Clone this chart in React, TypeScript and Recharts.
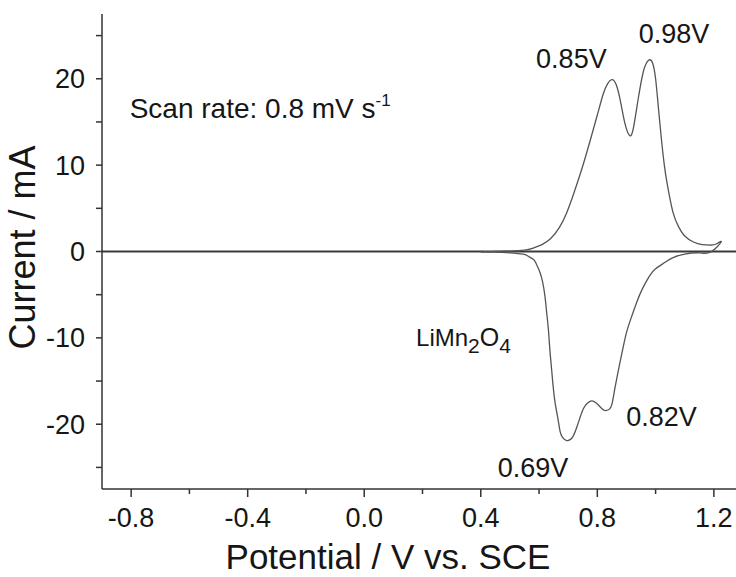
import React from 'react';
import { LineChart, Line, XAxis, YAxis, ReferenceLine, ReferenceDot } from 'recharts';

// Cyclic voltammogram loop: anodic sweep 0.40 -> 1.225 V, then cathodic back to 0.40 V
const potentialV = [
  0.40, 0.45, 0.50, 0.55, 0.58, 0.61, 0.64, 0.67, 0.695, 0.72, 0.75, 0.775, 0.80, 0.82, 0.835, 0.85,
  0.865, 0.88, 0.895, 0.912, 0.925, 0.94, 0.957, 0.97, 0.98, 0.99, 1.0, 1.01, 1.02, 1.03, 1.04, 1.06,
  1.08, 1.10, 1.13, 1.16, 1.19, 1.21, 1.225,
  1.19, 1.15, 1.10, 1.06, 1.03, 1.0, 0.98, 0.955, 0.935, 0.915, 0.90, 0.888, 0.878, 0.868, 0.86, 0.85,
  0.84, 0.825, 0.81, 0.795, 0.78, 0.765, 0.752, 0.74, 0.73, 0.715, 0.695, 0.68, 0.672, 0.664, 0.655,
  0.648, 0.643, 0.637, 0.632, 0.626, 0.62, 0.612, 0.603, 0.59, 0.58, 0.56, 0.546, 0.50, 0.466, 0.43, 0.40,
];
const currentMA = [
  -0.1, 0.0, 0.05, 0.15, 0.4, 0.8, 1.5, 2.8, 4.5, 6.8, 9.9, 12.8, 15.8, 18.2, 19.4, 19.9,
  19.3, 17.3, 14.8, 13.4, 14.5, 17.6, 20.7, 21.9, 22.2, 21.8, 20.0, 16.5, 13.0, 10.0, 7.8, 4.5,
  2.8, 1.8, 1.1, 0.8, 0.75, 0.9, 1.1,
  -0.05, -0.15, -0.3, -0.7, -1.3, -2.0, -2.8, -4.3, -5.9, -7.8, -9.4, -11.2, -12.8, -14.5, -15.9, -17.7,
  -18.3, -18.4, -18.0, -17.5, -17.3, -17.6, -18.2, -19.3, -20.3, -21.5, -21.9, -21.5, -20.8, -19.2, -17.5,
  -15.5, -13.6, -11.3, -9.0, -7.0, -5.1, -3.5, -2.4, -1.4, -0.9, -0.5, -0.3, -0.15, -0.1, -0.05, 0.0,
];

const xTicks = [-0.8, -0.6, -0.4, -0.2, 0.0, 0.2, 0.4, 0.6, 0.8, 1.0, 1.2];
const xMajorTicks = [-0.8, -0.4, 0.0, 0.4, 0.8, 1.2];
const yTicks = [-25, -20, -15, -10, -5, 0, 5, 10, 15, 20, 25];
const yMajorTicks = [-20, -10, 0, 10, 20];

const peakLabels = [
  { v: 0.711, i: 21.3, text: '0.85V' },
  { v: 1.063, i: 24.2, text: '0.98V' },
  { v: 1.02, i: -20.2, text: '0.82V' },
  { v: 0.579, i: -26.1, text: '0.69V' },
];

const data = potentialV.map((v, k) => ({ v, i: currentMA[k] }));

const FONT = 'Liberation Sans, Arial, Helvetica, sans-serif';
const TEXT = '#161616';
const AXIS = '#333';

const isIn = (arr: number[], val: number) => arr.some((m) => Math.abs(m - val) < 1e-6);

const XTick = (props: any) => {
  const { x, y, payload } = props;
  const major = isIn(xMajorTicks, payload.value);
  return (
    <g>
      <line x1={x} x2={x} y1={y} y2={y + (major ? 8 : 5)} stroke={AXIS} strokeWidth={1.5} />
      {major && (
        <text x={x} y={y + 38} textAnchor="middle" fontSize={27} fontFamily={FONT} fill={TEXT}>
          {Number(payload.value).toFixed(1)}
        </text>
      )}
    </g>
  );
};

const YTick = (props: any) => {
  const { x, y, payload } = props;
  const major = isIn(yMajorTicks, payload.value);
  return (
    <g>
      <line x1={x - 6} x2={x} y1={y} y2={y} stroke={AXIS} strokeWidth={1.5} />
      {major && (
        <text x={x - 17} y={y + 9.5} textAnchor="end" fontSize={27} fontFamily={FONT} fill={TEXT}>
          {String(payload.value)}
        </text>
      )}
    </g>
  );
};

export default function App() {
  return (
    <div style={{ position: 'fixed', left: 0, top: 0, width: 736, height: 577, overflow: 'hidden', background: '#fff' }}>
      <LineChart width={760} height={577} data={data} margin={{ top: 14, right: 17, bottom: 0, left: 0 }}>
        <XAxis
          dataKey="v"
          type="number"
          domain={[-0.9, 1.3]}
          ticks={xTicks}
          interval={0}
          tick={<XTick />}
          tickLine={false}
          tickSize={0}
          tickMargin={0}
          height={88}
          axisLine={{ stroke: AXIS, strokeWidth: 1.5 }}
          allowDataOverflow
          label={{
            content: (p: any) => {
              const vb = p.viewBox || {};
              return (
                <text x={vb.x + 286} y={vb.y + 80} textAnchor="middle" fontSize={35} fontFamily={FONT} fill={TEXT}>
                  Potential / V vs. SCE
                </text>
              );
            },
          }}
        />
        <XAxis
          xAxisId="top"
          orientation="top"
          type="number"
          domain={[-0.9, 1.3]}
          height={0}
          tick={false}
          tickLine={false}
          axisLine={{ stroke: AXIS, strokeWidth: 1.5 }}
        />
        <YAxis
          type="number"
          domain={[-27.5, 27.5]}
          ticks={yTicks}
          interval={0}
          tick={<YTick />}
          tickLine={false}
          tickSize={0}
          tickMargin={0}
          width={102}
          axisLine={{ stroke: AXIS, strokeWidth: 1.5 }}
          allowDataOverflow
          label={{
            content: (p: any) => {
              const vb = p.viewBox || {};
              const cx = 35;
              const cy = vb.y + vb.height / 2 - 4;
              return (
                <text
                  x={cx}
                  y={cy}
                  textAnchor="middle"
                  fontSize={36}
                  fontFamily={FONT}
                  fill={TEXT}
                  transform={`rotate(-90, ${cx}, ${cy})`}
                >
                  Current / mA
                </text>
              );
            },
          }}
        />
        <ReferenceLine y={0} stroke="#3a3a3a" strokeWidth={2.2} />
        <Line
          dataKey="i"
          type="natural"
          stroke="#555"
          strokeWidth={1.3}
          dot={false}
          isAnimationActive={false}
        />
        {peakLabels.map((a) => (
          <ReferenceDot
            key={a.text}
            x={a.v}
            y={a.i}
            r={0}
            shape={(p: any) => (
              <text x={p.cx} y={p.cy} textAnchor="middle" fontSize={27} fontFamily={FONT} fill={TEXT}>
                {a.text}
              </text>
            )}
          />
        ))}
        <ReferenceDot
          x={-0.805}
          y={15.5}
          r={0}
          shape={(p: any) => (
            <text x={p.cx} y={p.cy} textAnchor="start" fontSize={28} fontFamily={FONT} fill={TEXT}>
              Scan rate: 0.8 mV s
              <tspan fontSize={17} dy={-12}>-1</tspan>
            </text>
          )}
        />
        <ReferenceDot
          x={0.178}
          y={-10.95}
          r={0}
          shape={(p: any) => (
            <text x={p.cx} y={p.cy} textAnchor="start" fontSize={24} fontFamily={FONT} fill={TEXT}>
              LiMn
              <tspan fontSize={21} dy={7}>2</tspan>
              <tspan fontSize={25} dy={-7}>O</tspan>
              <tspan fontSize={21} dy={7}>4</tspan>
            </text>
          )}
        />
      </LineChart>
    </div>
  );
}
